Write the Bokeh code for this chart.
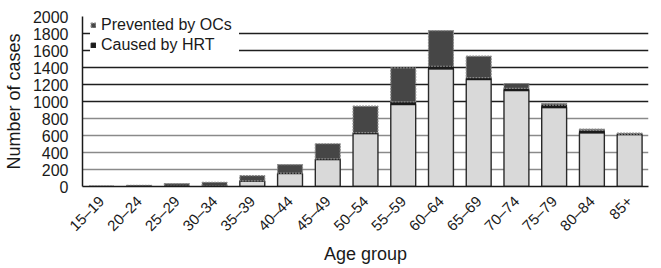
import numpy as np
from bokeh.plotting import figure
from bokeh.models import ColumnDataSource, FactorRange, Range1d, Legend, LegendItem, Grid, FixedTicker
from bokeh.embed import file_html
from bokeh.resources import INLINE

age_groups = ["15–19", "20–24", "25–29", "30–34", "35–39", "40–44", "45–49", "50–54",
              "55–59", "60–64", "65–69", "70–74", "75–79", "80–84", "85+"]
baseline = [0, 0, 2, 5, 65, 153, 317, 622, 965, 1384, 1259, 1129, 928, 632, 610]
caused_by_hrt = [0, 0, 0, 0, 2, 5, 8, 12, 30, 31, 23, 25, 30, 28, 5]
prevented_by_ocs = [3, 15, 33, 45, 60, 100, 178, 311, 400, 419, 251, 58, 18, 14, 12]
y_ticks = [0, 200, 400, 600, 800, 1000, 1200, 1400, 1600, 1800, 2000]

FONT = "Liberation Sans"

b = np.array(baseline, dtype=float)
h = np.array(caused_by_hrt, dtype=float)
o = np.array(prevented_by_ocs, dtype=float)
src = ColumnDataSource(dict(x=age_groups, b0=np.zeros_like(b), b1=b, h1=b + h, o1=b + h + o))

p = figure(frame_width=566, frame_height=170, x_range=FactorRange(*age_groups, range_padding=0),
           y_range=Range1d(0, 2000), output_backend="svg", toolbar_location=None,
           min_border_left=79, min_border_right=3, min_border_top=16, min_border_bottom=0)
p.outline_line_color = None
p.xgrid.grid_line_color = None
p.ygrid.grid_line_color = None

grid_dark = Grid(dimension=1, ticker=FixedTicker(ticks=y_ticks[5:10]), grid_line_color="#1e1e1e", grid_line_width=1.3)
grid_light = Grid(dimension=1, ticker=FixedTicker(ticks=y_ticks[1:5]), grid_line_color="#8a8a8a", grid_line_width=1.3)
p.add_layout(grid_dark)
p.add_layout(grid_light)

W = 0.66
r_base = p.vbar(x="x", bottom="b0", top="b1", width=W, source=src, fill_color="#d9d9d9",
                line_color="#2a2a2a", line_width=1.4)
r_hrt = p.vbar(x="x", bottom="b1", top="h1", width=W, source=src, fill_color="#1a1a1a",
               line_color="#1a1a1a", line_width=1)
r_oc = p.vbar(x="x", bottom="h1", top="o1", width=W, source=src, fill_color="#464646",
              line_color="#8a8a8a", line_width=1.2, line_dash="2 1")

p.yaxis.ticker = FixedTicker(ticks=y_ticks)
p.yaxis.axis_label = "Number of cases"
p.xaxis.axis_label = "Age group"
for ax in (p.xaxis, p.yaxis):
    ax.axis_label_text_font = FONT
    ax.axis_label_text_font_size = "18px"
    ax.axis_label_text_font_style = "normal"
    ax.axis_label_text_color = "#1a1a1a"
    ax.major_label_text_font = FONT
    ax.major_label_text_color = "#1a1a1a"
    ax.major_tick_line_color = None
    ax.minor_tick_line_color = None
    ax.axis_line_color = "#1a1a1a"
    ax.axis_line_width = 1.5
p.yaxis.major_label_text_font_size = "16px"
p.xaxis.major_label_text_font_size = "15px"
p.yaxis.major_label_standoff = 8
p.yaxis.axis_label_standoff = 6
p.xaxis.major_label_orientation = np.pi / 4
p.xaxis.major_label_standoff = 6
p.xaxis.axis_label_standoff = 1

legend = Legend(items=[LegendItem(label="Prevented by OCs", renderers=[r_oc]),
                       LegendItem(label="Caused by HRT", renderers=[r_hrt])],
                location=(8, 132), margin=0, padding=4, spacing=2,
                glyph_width=6, glyph_height=6, label_standoff=5, label_width=138,
                label_text_font=FONT, label_text_font_size="16px", label_text_color="#1a1a1a",
                border_line_color=None, background_fill_color="white", background_fill_alpha=1)
p.add_layout(legend)

open("out.html", "w").write(file_html(p, INLINE))
